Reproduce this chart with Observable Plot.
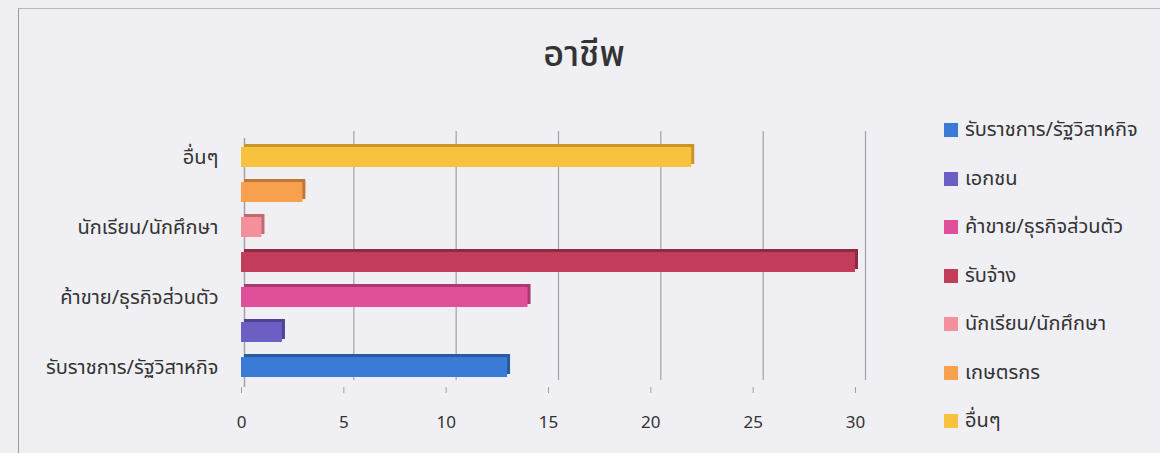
<!DOCTYPE html>
<html><head><meta charset="utf-8">
<script src="https://cdn.jsdelivr.net/npm/d3@7"></script>
<script src="https://cdn.jsdelivr.net/npm/@observablehq/plot@0.6"></script>
<style>
body{margin:0;background:#eeeef3;}
#wrap{position:relative;width:1160px;height:453px;overflow:hidden;background:#efeff4;font-family:"Noto Sans Thai","Noto Sans","DejaVu Sans",sans-serif;color:#333;}
#frame{position:absolute;left:18px;top:8px;width:1200px;height:500px;border-left:1.5px solid #9a9aa0;border-top:1.5px solid #b8b8be;}
#title{position:absolute;left:0;width:1168px;top:30px;text-align:center;font-size:36px;font-weight:500;color:#333;line-height:50px;}
#chart{position:absolute;left:0;top:0;}
#legend{position:absolute;left:944px;top:116px;}
.item{height:48.5px;display:flex;align-items:flex-start;font-size:20px;line-height:28px;color:#333;}
.sw{width:14px;height:14px;margin-right:7px;margin-top:7px;}
</style></head>
<body><div id="wrap"><div id="frame"></div><div id="title">อาชีพ</div><div id="chart"></div><div id="legend"></div></div>
<script>
const categories = ["รับราชการ/รัฐวิสาหกิจ","เอกชน","ค้าขาย/ธุรกิจส่วนตัว","รับจ้าง","นักเรียน/นักศึกษา","เกษตรกร","อื่นๆ"];
const values = [13, 2, 14, 30, 1, 3, 22];
const colors = ["#3a7bd5","#6b5fc4","#e0509a","#c23d5c","#f4909c","#f7a04e","#f9c23e"];
const shades = ["#2a5aa0","#4d4394","#a83a72","#8e2b43","#c06a72","#c07838","#c8962a"];
const labeled = new Set(["รับราชการ/รัฐวิสาหกิจ","ค้าขาย/ธุรกิจส่วนตัว","นักเรียน/นักศึกษา","อื่นๆ"]);
const xTicks = [0,5,10,15,20,25,30];

const data = categories.map((c,i)=>({cat:c, value:values[i], color:colors[i], shade:shades[i]}));

const chart = Plot.plot({
  width: 1160, height: 453,
  marginLeft: 241, marginRight: 305, marginTop: 138, marginBottom: 66,
  style: {background: "transparent", fontFamily: '"Noto Sans Thai","Noto Sans",sans-serif'},
  x: {domain: [0, 30], ticks: xTicks, label: null},
  y: {domain: categories.slice().reverse(), paddingInner: 0.42, paddingOuter: 0.21, label: null},
  marks: [
    Plot.ruleX(xTicks.slice(1), {stroke: "#a0a0a8", strokeWidth: 1.2, dx: 10, dy: -7}),
    Plot.ruleX([0], {stroke: "#a0a0a8", strokeWidth: 1.5, dx: 3}),
    Plot.ruleY([0], {frameAnchor: "bottom", stroke: "#a0a0a8"}),
    Plot.barX(data, {y: "cat", x: "value", fill: d => d.shade, dx: 3, dy: -3}),
    Plot.barX(data, {y: "cat", x: "value", fill: d => d.color}),
    Plot.axisX({ticks: xTicks, tickSize: 6, tickPadding: 22, fontSize: 17, stroke: "#a0a0a8", label: null}),
    Plot.axisY({tickSize: 0, tickPadding: 23, fontSize: 20, label: null, tickFormat: d => labeled.has(d) ? d : ""})
  ]
});
chart.querySelectorAll("text").forEach(t=>t.setAttribute("fill","#333"));
document.getElementById("chart").appendChild(chart);

const lg = document.getElementById("legend");
categories.forEach((c,i)=>{
  const it = document.createElement("div"); it.className="item";
  const sw = document.createElement("div"); sw.className="sw"; sw.style.background=colors[i];
  const tx = document.createElement("span"); tx.textContent=c;
  it.appendChild(sw); it.appendChild(tx); lg.appendChild(it);
});
</script></body></html>
